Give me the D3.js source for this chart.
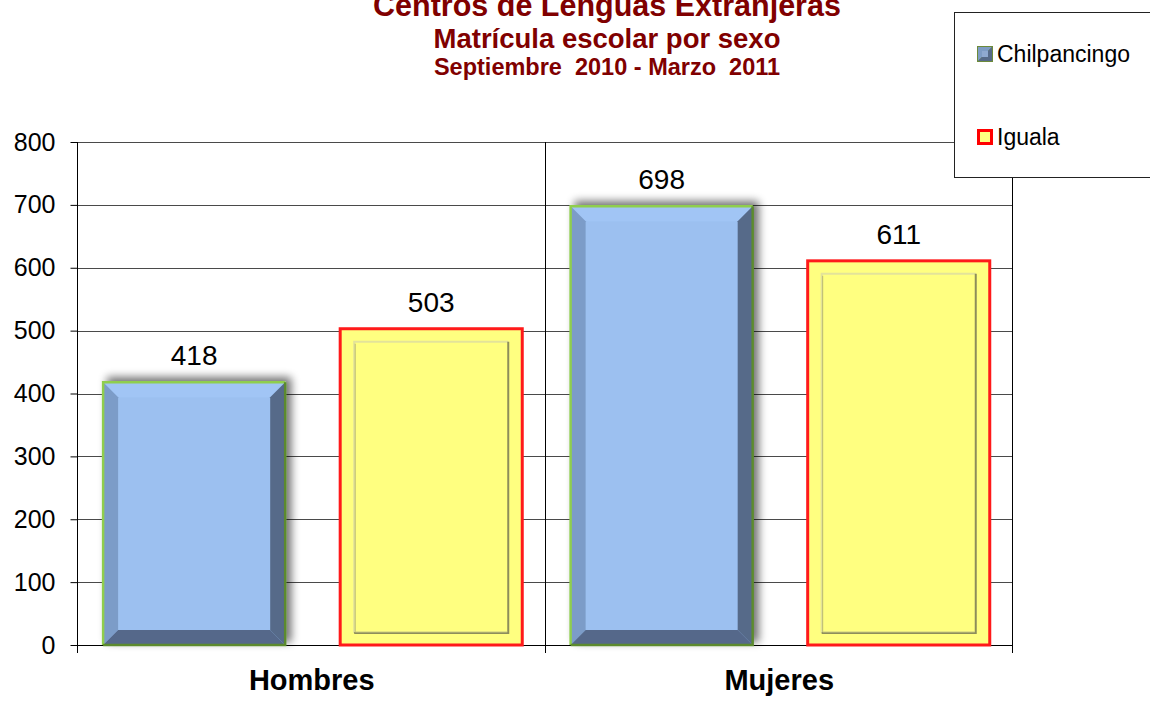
<!DOCTYPE html>
<html>
<head>
<meta charset="utf-8">
<script src="https://cdn.jsdelivr.net/npm/d3@7"></script>
<style>
  html, body { margin: 0; padding: 0; background: #fff; }
  svg { display: block; font-family: "Liberation Sans", Arial, sans-serif; }
  .title { white-space: pre; }
</style>
</head>
<body>
<svg id="chart" width="1150" height="703"></svg>
<script>
// Enrolment by sex, two language centres
const categories = ["Hombres", "Mujeres"];
const seriesNames = ["Chilpancingo", "Iguala"];
const chilpancingo = [418, 698];
const iguala = [503, 611];
const yTicks = [0, 100, 200, 300, 400, 500, 600, 700, 800];
const titleLines = [
  "Centros de Lenguas Extranjeras",
  "Matrícula escolar por sexo",
  "Septiembre  2010 - Marzo  2011"
];

const svg = d3.select("#chart");
const plot = { left: 77, right: 1012, top: 142, bottom: 645 };

const x0 = d3.scaleBand().domain(categories).range([plot.left, plot.right]).padding(0);
const x1 = d3.scaleBand().domain(seriesNames).range([0, x0.bandwidth()])
  .paddingInner(0.232).paddingOuter(0.102).align(0.54);
const y = d3.scaleLinear().domain([0, 800]).range([plot.bottom, plot.top]);

// soft drop shadow for the bevelled bars
const defs = svg.append("defs");
const sh = defs.append("filter").attr("id", "shadow")
  .attr("x", "-20%").attr("y", "-20%").attr("width", "140%").attr("height", "140%");
sh.append("feGaussianBlur").attr("in", "SourceAlpha").attr("stdDeviation", 4.5).attr("result", "b");
sh.append("feOffset").attr("in", "b").attr("dx", 5).attr("dy", -4).attr("result", "o");
sh.append("feComponentTransfer").attr("in", "o").attr("result", "s")
  .append("feFuncA").attr("type", "linear").attr("slope", 0.55);
const m = sh.append("feMerge");
m.append("feMergeNode").attr("in", "s");
m.append("feMergeNode").attr("in", "SourceGraphic");

// title
const titleColor = "#800000";
const titleSizes = [30.5, 27.5, 23.5];
const titleBase = [16, 48, 75];
svg.append("g").selectAll("text").data(titleLines).join("text")
  .attr("class", "title")
  .attr("x", 607).attr("y", (d, i) => titleBase[i])
  .attr("text-anchor", "middle")
  .attr("font-weight", "bold")
  .attr("font-size", (d, i) => titleSizes[i])
  .attr("fill", titleColor)
  .text(d => d);

// gridlines
svg.append("g").selectAll("line").data(yTicks).join("line")
  .attr("x1", plot.left).attr("x2", plot.right)
  .attr("y1", d => Math.round(y(d)) + 0.5).attr("y2", d => Math.round(y(d)) + 0.5)
  .attr("stroke", d => d === 0 ? "#000" : "#4a4a4a").attr("stroke-width", 1);

// vertical frame lines: category separator and right edge
svg.append("g").selectAll("line").data([x0("Mujeres"), plot.right]).join("line")
  .attr("x1", d => Math.round(d) + 0.5).attr("x2", d => Math.round(d) + 0.5)
  .attr("y1", plot.top).attr("y2", plot.bottom + 8)
  .attr("stroke", "#000");

// y axis
const yAxis = d3.axisLeft(y).tickValues(yTicks).tickSize(7).tickPadding(15);
const ga = svg.append("g").attr("transform", `translate(${plot.left + 0.5},0)`).call(yAxis);
ga.select(".domain").attr("d", `M0,${plot.top}V${plot.bottom + 8}`).attr("stroke", "#000");
ga.selectAll(".tick line").attr("stroke", "#000");
ga.selectAll(".tick text").attr("font-size", 25).attr("fill", "#000")
  .attr("font-family", "'Liberation Sans', Arial, sans-serif");

// bars
const bev = 15;
const groups = svg.append("g").selectAll("g").data(categories).join("g")
  .attr("transform", d => `translate(${x0(d)},0)`);

groups.each(function (cat, i) {
  const g = d3.select(this);

  // Chilpancingo: bevelled blue bar with shadow
  const vb = chilpancingo[i];
  const bx = x1("Chilpancingo"), bw = x1.bandwidth();
  const by = y(vb), bh = y(0) - y(vb);
  const b = g.append("g").attr("filter", "url(#shadow)");
  const P = pts => pts.map(p => p.join(",")).join(" ");
  b.append("rect").attr("x", bx).attr("y", by).attr("width", bw).attr("height", bh).attr("fill", "#9cc0f0");
  b.append("polygon").attr("points", P([[bx, by], [bx + bw, by], [bx + bw - bev, by + bev], [bx + bev, by + bev]])).attr("fill", "#a1c5f5");
  b.append("polygon").attr("points", P([[bx, by], [bx + bev, by + bev], [bx + bev, by + bh - bev], [bx, by + bh]])).attr("fill", "#7b9cc8");
  b.append("polygon").attr("points", P([[bx + bw, by], [bx + bw, by + bh], [bx + bw - bev, by + bh - bev], [bx + bw - bev, by + bev]])).attr("fill", "#566a89");
  b.append("polygon").attr("points", P([[bx, by + bh], [bx + bev, by + bh - bev], [bx + bw - bev, by + bh - bev], [bx + bw, by + bh]])).attr("fill", "#55688a");
  b.append("path").attr("d", `M${bx},${by + bh}V${by}H${bx + bw}`).attr("fill", "none").attr("stroke", "#8fce4e").attr("stroke-width", 2.5);
  b.append("path").attr("d", `M${bx + bw},${by}V${by + bh}H${bx}`).attr("fill", "none").attr("stroke", "#5b8a2f").attr("stroke-width", 2.5);

  g.append("text").attr("x", bx + bw / 2).attr("y", by - 17)
    .attr("text-anchor", "middle").attr("font-size", 28).attr("fill", "#000").text(vb);

  // Iguala: yellow bar with red outline and embossed inner frame
  const vi = iguala[i];
  const ix = x1("Iguala"), iw = x1.bandwidth();
  const iy = y(vi), ih = y(0) - y(vi);
  g.append("rect").attr("x", ix).attr("y", iy).attr("width", iw).attr("height", ih)
    .attr("fill", "#ffff80").attr("stroke", "#ff1a1a").attr("stroke-width", 3);
  const ins = 14, l = ix + ins, r = ix + iw - ins, t = iy + 13, bt = iy + ih - 12;
  g.append("path").attr("d", `M${l},${bt}V${t}H${r}`).attr("fill", "none").attr("stroke", "#e3e39a").attr("stroke-width", 2);
  g.append("path").attr("d", `M${l + 1},${bt}V${t + 2}`).attr("fill", "none").attr("stroke", "#b8b872").attr("stroke-width", 1);
  g.append("path").attr("d", `M${r},${t}V${bt}H${l}`).attr("fill", "none").attr("stroke", "#8d8d5a").attr("stroke-width", 2);
  g.append("path").attr("d", `M${r - 1},${bt - 1}H${l + 1}`).attr("fill", "none").attr("stroke", "#c8c882").attr("stroke-width", 1);

  g.append("text").attr("x", ix + iw / 2).attr("y", iy - 17)
    .attr("text-anchor", "middle").attr("font-size", 28).attr("fill", "#000").text(vi);
});

// category labels
svg.append("g").selectAll("text").data(categories).join("text")
  .attr("x", d => x0(d) + x0.bandwidth() / 2 + 1).attr("y", 690)
  .attr("text-anchor", "middle").attr("font-weight", "bold").attr("font-size", 29)
  .attr("fill", "#000").text(d => d);

// legend
const lg = svg.append("g");
lg.append("rect").attr("x", 954.5).attr("y", 12.5).attr("width", 210).attr("height", 165)
  .attr("fill", "#fff").attr("stroke", "#222").attr("stroke-width", 1);
const legendY = [54, 137];
const items = lg.selectAll("g").data(seriesNames).join("g")
  .attr("transform", (d, i) => `translate(977,${legendY[i]})`);
items.each(function (d, i) {
  const it = d3.select(this);
  if (i === 0) {
    it.append("rect").attr("x", 0).attr("y", -8).attr("width", 16).attr("height", 16).attr("fill", "#6c8a3a");
    it.append("polygon").attr("points", "1,-7 15,-7 1,7").attr("fill", "#7e9cc4");
    it.append("polygon").attr("points", "15,-7 15,7 1,7").attr("fill", "#566a88");
    it.append("rect").attr("x", 5).attr("y", -3).attr("width", 6).attr("height", 6).attr("fill", "#8fa9cf");
  } else {
    it.append("rect").attr("x", 1.5).attr("y", -6.5).attr("width", 13).attr("height", 13)
      .attr("fill", "#ffff80").attr("stroke", "#ff0000").attr("stroke-width", 3);
  }
  it.append("text").attr("x", 20).attr("y", 8).attr("font-size", 23).attr("fill", "#000").text(d);
});
</script>
</body>
</html>
